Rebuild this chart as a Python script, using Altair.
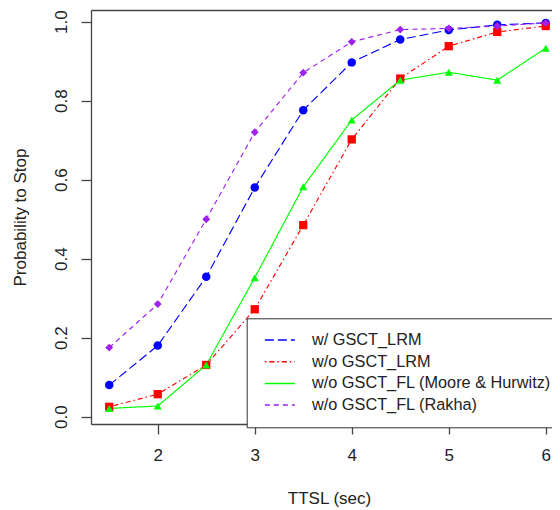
import altair as alt
import pandas as pd

# ---- data ----
ttsl = [1.5, 2.0, 2.5, 3.0, 3.5, 4.0, 4.5, 5.0, 5.5, 6.0]
series_names = [
    "w/ GSCT_LRM",
    "w/o GSCT_LRM",
    "w/o GSCT_FL (Moore & Hurwitz)",
    "w/o GSCT_FL (Rakha)",
]
p_w_lrm = [0.080, 0.180, 0.354, 0.580, 0.776, 0.897, 0.955, 0.979, 0.992, 0.997]
p_wo_lrm = [0.025, 0.057, 0.131, 0.272, 0.485, 0.702, 0.856, 0.938, 0.974, 0.989]
p_wo_fl_mh = [0.021, 0.027, 0.131, 0.352, 0.582, 0.751, 0.852, 0.872, 0.852, 0.933]
p_wo_fl_rakha = [0.175, 0.285, 0.500, 0.720, 0.871, 0.949, 0.980, 0.983, 0.989, 0.997]
y_ticks = [0.0, 0.2, 0.4, 0.6, 0.8, 1.0]
x_ticks = [2, 3, 4, 5, 6]

# ---- styles ----
colors = ["#0000ff", "#ff0000", "#00ff00", "#a020f0"]
dashes = [[9, 4], [1.5, 3, 5, 3], [1, 0], [5, 4]]
shapes = ["circle", "square", "triangle-up", "diamond"]
sizes = [72, 62, 112, 50]

all_values = [p_w_lrm, p_wo_lrm, p_wo_fl_mh, p_wo_fl_rakha]
rows = []
for k, (name, vals) in enumerate(zip(series_names, all_values)):
    for x, v in zip(ttsl, vals):
        rows.append({"series": name, "order": k, "ttsl": x, "p": v})
df = pd.DataFrame(rows)

FONT = "Liberation Sans"
TXT = "#222222"
FRAME = "#444444"
PLOT_W = 461
PLOT_H = 414

x_scale = alt.Scale(domain=[1.312, 6.0646], nice=False, zero=False)
y_scale = alt.Scale(domain=[-0.0185, 1.0296], nice=False, zero=False)

x_bottom = alt.X(
    "ttsl:Q", scale=x_scale,
    axis=alt.Axis(
        orient="bottom", values=x_ticks, format="d", title="TTSL (sec)",
        labelBaseline="middle", labelPadding=21,
        titleX=238, titleY=74, titleBaseline="middle", titleAlign="center",
    ),
)
x_top = alt.X(
    "ttsl:Q", scale=x_scale,
    axis=alt.Axis(orient="top", labels=False, ticks=False, title=None),
)
y_enc = alt.Y(
    "p:Q", scale=y_scale,
    axis=alt.Axis(
        values=y_ticks, format=".1f", title="Probability to Stop",
        labelAngle=270, labelAlign="center", labelBaseline="middle", labelPadding=20,
        titleAngle=270, titleX=-71, titleY=207, titleAlign="center", titleBaseline="middle",
    ),
)

leg = alt.Legend(
    orient="none", legendX=155.7, legendY=308.3, title=None,
    symbolType="M-3,0H3", symbolSize=100, symbolStrokeWidth=1.5, symbolOffset=11.45,
    labelFont=FONT, labelFontSize=16.3, labelColor=TXT, labelOffset=24, labelLimit=600,
    strokeColor="#333333", fillColor="white", padding=13.55, rowPadding=4.7,
)

lines = alt.Chart(df).mark_line(strokeWidth=1.15).encode(
    x=x_bottom,
    y=y_enc,
    color=alt.Color("series:N", scale=alt.Scale(domain=series_names, range=colors), legend=leg),
    strokeDash=alt.StrokeDash("series:N", scale=alt.Scale(domain=series_names, range=dashes), legend=leg),
    detail="series:N",
    order="ttsl:Q",
)

points = alt.Chart(df).mark_point(filled=True, opacity=1, strokeWidth=0).encode(
    x=x_top,
    y=y_enc,
    color=alt.Color("series:N", scale=alt.Scale(domain=series_names, range=colors), legend=None),
    shape=alt.Shape("series:N", scale=alt.Scale(domain=series_names, range=shapes), legend=None),
    size=alt.Size("series:N", scale=alt.Scale(domain=series_names, range=sizes), legend=None),
    order="order:Q",
)

chart = (
    alt.layer(lines, points)
    .resolve_axis(x="independent")
    .resolve_scale(color="independent", shape="independent", size="independent", strokeDash="independent")
    .properties(
        width=PLOT_W, height=PLOT_H,
        padding={"left": 83, "top": 2, "right": 0, "bottom": 84},
        autosize=alt.AutoSizeParams(type="none"),
        background="white",
    )
    .configure_view(stroke="transparent")
    .configure_axis(
        grid=False, domain=True, domainColor=FRAME, domainWidth=1.3,
        tickSize=10, tickColor=FRAME, tickWidth=1.3,
        labelFont=FONT, labelFontSize=17, labelColor=TXT,
        titleFont=FONT, titleFontSize=17, titleFontWeight="normal", titleColor=TXT,
    )
)

chart.save("out.html", embed_options={"renderer": "svg", "actions": False})
